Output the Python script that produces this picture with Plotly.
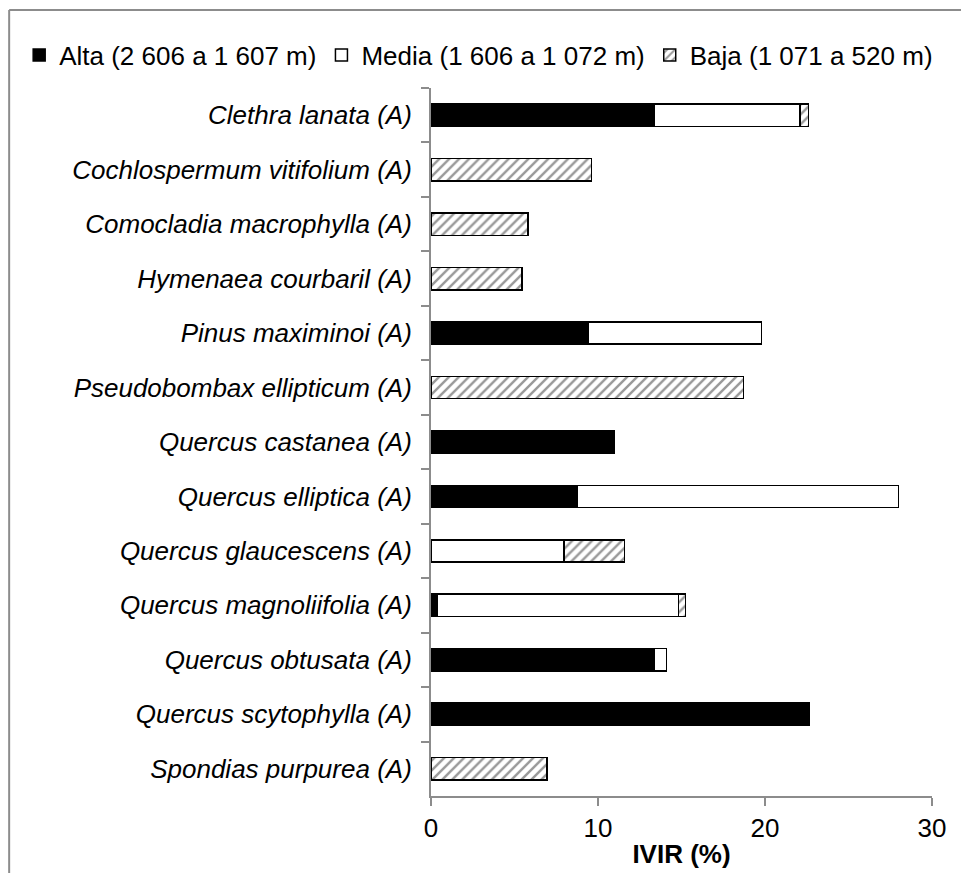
import plotly.graph_objects as go

species = [
    "Clethra lanata (A)",
    "Cochlospermum vitifolium (A)",
    "Comocladia macrophylla (A)",
    "Hymenaea courbaril (A)",
    "Pinus maximinoi (A)",
    "Pseudobombax ellipticum (A)",
    "Quercus castanea (A)",
    "Quercus elliptica (A)",
    "Quercus glaucescens (A)",
    "Quercus magnoliifolia (A)",
    "Quercus obtusata (A)",
    "Quercus scytophylla (A)",
    "Spondias purpurea (A)",
]
alta = [13.35, None, None, None, 9.4, None, 11.0, 8.75, None, 0.36, 13.35, 22.65, None]
media = [8.75, None, None, None, 10.4, None, None, 19.25, 7.95, 14.45, 0.75, None, None]
baja = [0.5, 9.6, 5.8, 5.45, None, 18.7, None, None, 3.65, 0.42, None, None, 6.95]

series_names = ["Alta (2 606 a 1 607 m)", "Media (1 606 a 1 072 m)", "Baja (1 071 a 520 m)"]
x_ticks = [0, 10, 20, 30]

labels = ["<i>%s</i>" % s for s in species]
font_family = "Liberation Sans, Arial, sans-serif"
FS = 26

fig = go.Figure()
fig.add_trace(go.Bar(y=labels, x=alta, orientation="h", name=series_names[0],
                     marker=dict(color="black", line=dict(color="black", width=1.5))))
fig.add_trace(go.Bar(y=labels, x=media, orientation="h", name=series_names[1],
                     marker=dict(color="white", line=dict(color="black", width=1.5))))
fig.add_trace(go.Bar(y=labels, x=baja, orientation="h", name=series_names[2],
                     marker=dict(color="white", line=dict(color="black", width=1.5),
                                 pattern=dict(shape="/", size=7, solidity=0.35,
                                              fgcolor="#333333", bgcolor="white",
                                              fillmode="overlay"))))

fig.update_layout(
    width=969, height=873,
    barmode="stack", bargap=0.59,
    plot_bgcolor="white", paper_bgcolor="white",
    margin=dict(l=423, r=45, t=80, b=85),
    font=dict(family=font_family, size=FS, color="black"),
    showlegend=True,
    legend=dict(orientation="h", x=-0.822, xanchor="left", y=1.0466, yanchor="middle",
                font=dict(size=FS), itemwidth=30, tracegroupgap=0, traceorder="normal",
                bgcolor="rgba(0,0,0,0)"),
    xaxis=dict(range=[0, 30], tickvals=x_ticks, showgrid=False, zeroline=False,
               showline=True, linecolor="#8c8c8c", linewidth=2,
               ticks="outside", ticklen=8, tickcolor="#8c8c8c", tickwidth=2,
               tickfont=dict(size=FS),
               title=dict(text="<b>IVIR (%)</b>", font=dict(size=FS), standoff=3)),
    yaxis=dict(autorange="reversed", showgrid=False, showline=True,
               linecolor="#8c8c8c", linewidth=2, ticks="outside", ticklen=8,
               tickcolor="#8c8c8c", tickwidth=2, tickson="boundaries",
               tickfont=dict(size=FS), ticklabelstandoff=12),
    shapes=[
        dict(type="line", xref="paper", yref="paper", x0=-0.842, x1=-0.842, y0=1.110, y1=-0.2,
             line=dict(color="#8c8c8c", width=2)),
        dict(type="line", xref="paper", yref="paper", x0=-0.842, x1=1.2, y0=1.110, y1=1.110,
             line=dict(color="#8c8c8c", width=2)),
    ],
)

fig.write_html("out.html")
